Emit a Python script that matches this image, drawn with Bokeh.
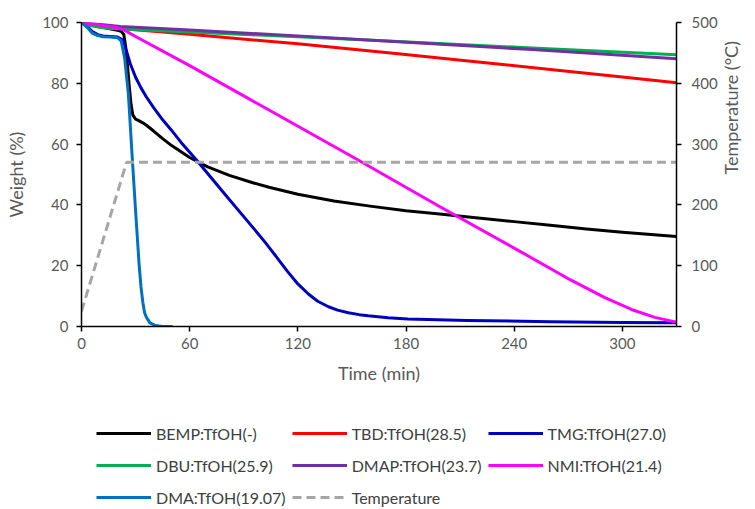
import math
from bokeh.plotting import figure
from bokeh.models import Range1d, LinearAxis, Legend, LegendItem, FixedTicker
from bokeh.layouts import column
from bokeh.embed import file_html
from bokeh.resources import INLINE

# ---- data ----
bemp_t = [0, 5, 10, 15, 20, 22, 23.5, 24.5, 25.5, 26.5, 27.5, 28.5, 30, 31.5, 34, 36, 40, 45, 50, 60, 70, 82, 95, 104, 120, 140, 160, 180, 200, 220, 240, 260, 280, 300, 330]
bemp_w = [100, 99.2, 98.6, 98.0, 97.4, 97.1, 96.0, 92, 86, 79, 73, 69.5, 68.2, 67.8, 67.0, 66.2, 64.3, 61.8, 59.5, 55.6, 52.5, 49.7, 47.3, 45.8, 43.5, 41.3, 39.6, 38.1, 36.9, 35.7, 34.5, 33.3, 32.1, 31.0, 29.6]

tbd_t = [0, 10, 21.5, 60, 120, 175.6, 220, 264, 300, 330]
tbd_w = [100, 99.0, 98.0, 96.1, 93.0, 89.7, 87.0, 84.3, 82.1, 80.2]

tmg_t = [0, 3, 6, 9, 12, 16, 20, 23, 25, 27, 30, 33, 36, 40, 45, 50, 56, 64, 80, 95, 102, 108, 114, 120, 126, 131, 137, 142, 148, 154, 159, 170, 181, 214, 260, 300, 330]
tmg_w = [100, 98.8, 97, 96, 95.6, 95.4, 95.2, 94.2, 90.5, 86.5, 82, 78.5, 75.5, 72, 68, 64.5, 60, 54.6, 43.2, 32.6, 27.6, 23.0, 18.3, 14.0, 10.6, 8.3, 6.5, 5.4, 4.5, 3.9, 3.5, 2.9, 2.5, 2.0, 1.6, 1.3, 1.2]

dbu_t = [0, 5, 10, 15, 21.5, 60, 120, 175.6, 250, 330]
dbu_w = [100, 99.0, 98.4, 98.1, 97.9, 96.9, 95.3, 93.75, 91.6, 89.4]

dmap_t = [0, 21.5, 60, 120, 175.6, 250, 330]
dmap_w = [100, 98.7, 97.5, 95.6, 93.7, 91.1, 88.1]

nmi_t = [0, 10, 20, 24, 30, 60, 104, 150, 197.6, 240, 271, 290, 305, 318, 330]
nmi_w = [100, 99.2, 98.3, 97.4, 95.4, 85.8, 71.2, 55.9, 39.8, 25.8, 15.4, 9.6, 5.6, 3.0, 1.4]

dma_t = [0, 3, 6, 9, 12, 16, 20, 22, 24, 26, 28, 30, 32, 33, 34, 35, 36, 38, 41, 45, 50]
dma_w = [100, 98.5, 96.5, 95.7, 95.3, 95.2, 95.0, 94.0, 88, 76.5, 57, 38, 20, 13, 8, 4.5, 3, 1.2, 0.3, 0, 0]

temp_t = [0, 25, 330]
temp_c = [25, 270, 270]

labels = ["BEMP:TfOH(-)", "TBD:TfOH(28.5)", "TMG:TfOH(27.0)", "DBU:TfOH(25.9)",
          "DMAP:TfOH(23.7)", "NMI:TfOH(21.4)", "DMA:TfOH(19.07)", "Temperature"]
colors = ["#000000", "#FF0000", "#0000C0", "#00B050", "#7030A0", "#FF00FF", "#0070C0", "#A6A6A6"]
# legend fills column by column: order gives rows BEMP/TBD/TMG, DBU/DMAP/NMI, DMA/Temperature
legend_order = [0, 3, 6, 1, 4, 7, 2, 5]

x_ticks = [0, 60, 120, 180, 240, 300]
y_ticks = [0, 20, 40, 60, 80, 100]
t_ticks = [0, 100, 200, 300, 400, 500]

FONT = "Lato"
TXT = "#595959"

p = figure(width=755, height=400, output_backend="svg", toolbar_location=None,
           x_range=Range1d(0, 330), y_range=Range1d(0, 100),
           min_border_left=81, min_border_right=75, min_border_top=22, min_border_bottom=74)
p.outline_line_color = None
p.grid.visible = False
p.extra_y_ranges = {"temp": Range1d(0, 500)}

series = [(bemp_t, bemp_w), (tbd_t, tbd_w), (tmg_t, tmg_w), (dbu_t, dbu_w),
          (dmap_t, dmap_w), (nmi_t, nmi_w), (dma_t, dma_w)]
for (t, w), c in zip(series, colors[:7]):
    p.line(t, w, line_color=c, line_width=3, line_join="round", line_cap="round")
p.line(temp_t, temp_c, line_color=colors[7], line_width=3, line_dash="9 5",
       y_range_name="temp")

def style_axis(ax):
    ax.axis_line_color = "black"
    ax.axis_line_width = 1.5
    ax.major_tick_line_color = "black"
    ax.major_tick_line_width = 1.5
    ax.major_tick_out = 5
    ax.major_tick_in = 0
    ax.minor_tick_line_color = None
    ax.major_label_text_font = FONT
    ax.major_label_text_font_size = "15px"
    ax.major_label_text_color = TXT
    ax.axis_label_text_font = FONT
    ax.axis_label_text_font_size = "18px"
    ax.axis_label_text_color = TXT
    ax.axis_label_text_font_style = "normal"

xa = p.xaxis[0]
style_axis(xa)
xa.ticker = FixedTicker(ticks=x_ticks)
xa.axis_label = "Time (min)"
xa.major_label_standoff = 6
xa.axis_label_standoff = 10

ya = p.yaxis[0]
style_axis(ya)
ya.ticker = FixedTicker(ticks=y_ticks)
ya.axis_label = "Weight (%)"
ya.major_label_standoff = 8
ya.axis_label_standoff = 12

ra = LinearAxis(y_range_name="temp", axis_label="Temperature (°C)")
style_axis(ra)
ra.ticker = FixedTicker(ticks=t_ticks)
ra.major_label_standoff = 10
ra.axis_label_standoff = 10
if "axis_label_orientation" in ra.properties():
    ra.axis_label_orientation = math.pi / 2
p.add_layout(ra, "right")

# ---- legend in its own strip below the chart ----
lg = figure(width=755, height=109, output_backend="svg", toolbar_location=None,
            x_range=Range1d(0, 1), y_range=Range1d(0, 1),
            min_border_left=0, min_border_right=0, min_border_top=0, min_border_bottom=0)
lg.axis.visible = False
lg.grid.visible = False
lg.outline_line_color = None
rends = []
for i, c in enumerate(colors):
    kw = dict(line_dash="9 5") if i == 7 else {}
    # lines lie outside this strip's ranges: only their legend glyphs show
    rends.append(lg.line(x=[5, 6], y=[5, 6], line_color=c, line_width=3, **kw))

items = [LegendItem(label=labels[i], renderers=[rends[i]]) for i in legend_order]
legend = Legend(items=items, ncols=3, location=(15, -1),
                border_line_color=None, background_fill_alpha=0,
                padding=0, margin=0, spacing=6,
                glyph_width=55, glyph_height=26, label_height=26,
                label_standoff=5, label_text_font=FONT, label_text_font_size="16px",
                label_text_color="#404040")
lg.add_layout(legend, "center")

open("out.html", "w").write(file_html(column(p, lg, spacing=0), INLINE))
